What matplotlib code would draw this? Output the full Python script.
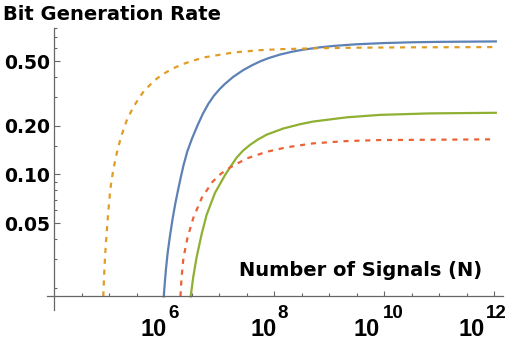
import numpy as np
import matplotlib
matplotlib.use("Agg")
import matplotlib.pyplot as plt
from matplotlib.ticker import FixedLocator, FixedFormatter, NullFormatter

plt.rcParams.update({
    "font.family": "DejaVu Sans",
    "font.weight": "bold",
})

# values (N, rate)
orange_n = [7.78e4, 8.04e4, 8.36e4, 8.97e4, 9.59e4, 1.03e5, 1.074e5, 1.183e5, 1.318e5, 1.459e5,
            1.679e5, 2.07e5, 2.73e5, 3.61e5, 4.46e5, 6.78e5, 8.91e5, 1.365e6, 2.07e6, 3.24e6,
            5.5e6, 1.8e7, 5.5e7, 1.46e8, 1e9, 3.61e9, 3.16e10, 1.07e12]
orange_rate = [0.0177, 0.0235, 0.031, 0.044, 0.059, 0.077, 0.087, 0.107, 0.128, 0.148,
               0.175, 0.215, 0.26, 0.302, 0.333, 0.382, 0.41, 0.447, 0.476, 0.502,
               0.528, 0.565, 0.584, 0.593, 0.602, 0.605, 0.608, 0.61]

blue_n = [9.77e5, 1.023e6, 1.072e6, 1.148e6, 1.259e6, 1.413e6, 1.585e6, 1.778e6, 1.995e6, 2.239e6,
          2.63e6, 3.16e6, 3.98e6, 5.01e6, 6.31e6, 7.94e6, 1.0e7, 1.26e7, 1.78e7, 2.73e7,
          3.98e7, 5.62e7, 7.94e7, 1.26e8, 2.0e8, 3.16e8, 6.31e8, 1.26e9, 3.16e9, 1e10,
          3.16e10, 1e11, 1.07e12]
blue_rate = [0.0177, 0.0215, 0.026, 0.0325, 0.041, 0.053, 0.066, 0.080, 0.096, 0.114,
             0.139, 0.165, 0.199, 0.236, 0.272, 0.305, 0.334, 0.361, 0.399, 0.440,
             0.472, 0.499, 0.522, 0.548, 0.569, 0.586, 0.606, 0.621, 0.635, 0.646,
             0.653, 0.657, 0.661]

green_n = [3.02e6, 3.37e6, 3.88e6, 4.79e6, 5.9e6, 8.36e6, 1.27e7, 1.58e7, 2.07e7, 2.69e7,
           3.61e7, 5.01e7, 7.28e7, 1.46e8, 2.93e8, 5.12e8, 2.07e9, 8.36e9, 6.78e10, 1.07e12]
green_rate = [0.0177, 0.0234, 0.031, 0.043, 0.0565, 0.077, 0.099, 0.111, 0.127, 0.140,
              0.152, 0.164, 0.176, 0.192, 0.204, 0.212, 0.225, 0.233, 0.238, 0.240]

red_n = [1.97e6, 2.06e6, 2.23e6, 2.64e6, 3.37e6, 4.79e6, 7.52e6, 1.07e7, 1.58e7, 3.15e7,
         7.28e7, 1.68e8, 5.12e8, 2.07e9, 8.36e9, 6.78e10, 1.07e12]
red_rate = [0.0177, 0.023, 0.0306, 0.0406, 0.0539, 0.0716, 0.090, 0.101, 0.1105, 0.1255,
            0.138, 0.147, 0.1555, 0.1607, 0.163, 0.1637, 0.1647]

x_major = [1e6, 1e8, 1e10, 1e12]
x_exponents = ["6", "8", "10", "12"]
y_major = [0.05, 0.1, 0.2, 0.5]
y_labels = ["0.05", "0.10", "0.20", "0.50"]
y_minor = [0.02, 0.03, 0.04, 0.06, 0.07, 0.08, 0.09, 0.15, 0.3, 0.4, 0.6, 0.7, 0.8]

fig = plt.figure(figsize=(5.15, 3.43), dpi=100)
ax = fig.add_axes([0.0907, 0.0962, 0.886, 0.8222])

lw = 1.6
ax.plot(blue_n, blue_rate, color="#5E81B5", lw=lw)
ax.plot(green_n, green_rate, color="#8FB032", lw=lw)
ax.plot(orange_n, orange_rate, color="#E19C24", lw=lw, dashes=(2.3, 2.6))
ax.plot(red_n, red_rate, color="#EB6235", lw=lw, dashes=(2.3, 2.6))

ax.set_xscale("log")
ax.set_yscale("log")
ax.set_xlim(10**3.862, 10**12.16)
ax.set_ylim(0.0146, 0.8)

x_axis_y = 0.0177
ax.spines["left"].set_position(("data", 1e4))
ax.spines["bottom"].set_position(("data", x_axis_y))
ax.spines["top"].set_visible(False)
ax.spines["right"].set_visible(False)
for s in ("left", "bottom"):
    ax.spines[s].set_color("#666666")
    ax.spines[s].set_linewidth(0.9)

ax.xaxis.set_major_locator(FixedLocator(x_major))
ax.xaxis.set_major_formatter(NullFormatter())
x_minor = [10**e for e in np.arange(4.5, 12.01, 0.5) if e % 2 != 0]
ax.xaxis.set_minor_locator(FixedLocator(x_minor))
ax.xaxis.set_minor_formatter(NullFormatter())

ax.yaxis.set_major_locator(FixedLocator(y_major))
ax.yaxis.set_major_formatter(FixedFormatter(y_labels))
ax.yaxis.set_minor_locator(FixedLocator(y_minor))
ax.yaxis.set_minor_formatter(NullFormatter())

ax.tick_params(which="both", direction="in", color="#666666", width=0.8)
ax.tick_params(axis="x", which="major", length=3.8)
ax.tick_params(axis="x", which="minor", length=2.4)
ax.tick_params(axis="y", which="major", length=4, pad=3, labelsize=13.5)
ax.tick_params(axis="y", which="minor", length=2.5)

# power-of-ten labels: "10" with a raised exponent, as in the reference
base_right = [2.4, 2.4, -4.3, -9.3]
exp_left = [4.2, 3.2, -1.5, -8.5]
for xt, ex, br, el in zip(x_major, x_exponents, base_right, exp_left):
    ax.annotate("10", xy=(xt, x_axis_y), xycoords="data", xytext=(br, -39.5),
                textcoords="offset pixels", ha="right", va="baseline",
                family="Liberation Sans", fontsize=17, fontweight="bold",
                annotation_clip=False)
    ax.annotate(ex, xy=(xt, x_axis_y), xycoords="data", xytext=(el, -21.5),
                textcoords="offset pixels", ha="left", va="baseline",
                family="Liberation Sans", fontsize=13.5, fontweight="bold",
                annotation_clip=False)

fig.text(0.006, 0.942, "Bit Generation Rate", fontsize=14, fontweight="bold", va="baseline")
fig.text(482 / 515, (343 - 276) / 343, "Number of Signals (N)", fontsize=14,
         fontweight="bold", ha="right", va="baseline")

fig.savefig("out.png", dpi=100)
